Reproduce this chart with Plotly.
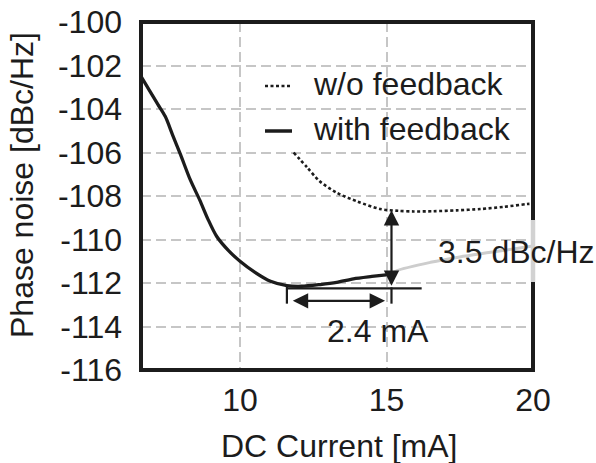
import plotly.graph_objects as go

# ---- data ----
fb_x = [6.62, 6.8, 7.0, 7.2, 7.45, 7.7, 7.97, 8.3, 8.63, 8.9, 9.2, 9.6, 10.0, 10.5, 11.04, 11.6, 12.1, 12.74, 13.3, 13.87, 14.5, 15.15]
fb_y = [-102.5, -102.9, -103.35, -103.8, -104.35, -105.2, -106.1, -107.25, -108.2, -109.05, -109.85, -110.5, -111.0, -111.5, -111.92, -112.12, -112.15, -112.07, -111.97, -111.81, -111.7, -111.6]

ext_x = [15.15, 15.36, 16.5, 17.5, 18.55, 20.0]
ext_y = [-111.6, -111.43, -111.05, -110.8, -110.59, -110.3]

nofb_x = [11.83, 12.3, 12.7, 13.3, 14.0, 14.79, 15.4, 15.92, 16.6, 17.4, 18.2, 19.0, 19.8, 20.0]
nofb_y = [-106.0, -106.7, -107.3, -107.85, -108.25, -108.6, -108.68, -108.71, -108.7, -108.66, -108.6, -108.5, -108.37, -108.35]

x_ticks = [10, 15, 20]
y_ticks = [-116, -114, -112, -110, -108, -106, -104, -102, -100]

# annotation values
arr_v_x, arr_v_top, arr_v_bot = 15.17, -108.65, -112.2
arr_h_y, arr_h_left, arr_h_right = -112.82, 11.75, 14.95
base_y, base_left, base_right = -112.25, 11.6, 16.2
tick_low = -112.95
lbl_mA = (14.71, -114.2, "2.4 mA")
lbl_dB = (19.43, -110.56, "3.5 dBc/Hz")

FONT = "Liberation Sans, Arial, Helvetica, sans-serif"
INK = "#1c1c1c"
FS = 32

fig = go.Figure()
fig.add_trace(go.Scatter(x=ext_x, y=ext_y, mode="lines",
                         line=dict(color="#cdcdcd", width=3, shape="spline", smoothing=0.8), showlegend=False))
fig.add_trace(go.Scatter(x=nofb_x, y=nofb_y, mode="lines",
                         line=dict(color=INK, width=2.6, dash="3px,2.5px", shape="spline", smoothing=0.8),
                         showlegend=False))
fig.add_trace(go.Scatter(x=fb_x, y=fb_y, mode="lines",
                         line=dict(color=INK, width=3.3, shape="spline", smoothing=0.8), showlegend=False))

W, H = 596, 463
L, R, T, B = 141, 63, 22, 93
pw, ph = W - L - R, H - T - B
def px(xp):
    return (xp - L) / pw
def py(yp):
    return (H - B - yp) / ph

shapes = []
# frame
shapes.append(dict(type="rect", xref="paper", yref="paper", x0=0, x1=1, y0=0, y1=1,
                   line=dict(color=INK, width=4), layer="above"))
# grey segment on right border
shapes.append(dict(type="line", xref="paper", yref="paper", x0=1, x1=1, y0=py(220), y1=py(282),
                   line=dict(color="#d2d2d2", width=4.5), layer="above"))
# baseline & ticks of the annotation
shapes.append(dict(type="line", xref="x", yref="y", x0=base_left, x1=base_right, y0=base_y, y1=base_y,
                   line=dict(color=INK, width=2.2)))
shapes.append(dict(type="line", xref="x", yref="y", x0=base_left, x1=base_left, y0=-112.1, y1=tick_low,
                   line=dict(color=INK, width=2.2)))
shapes.append(dict(type="line", xref="x", yref="y", x0=arr_v_x, x1=arr_v_x, y0=arr_v_bot, y1=tick_low,
                   line=dict(color=INK, width=2.2)))
# legend samples
shapes.append(dict(type="line", xref="paper", yref="paper", x0=px(265), x1=px(292), y0=py(86), y1=py(86),
                   line=dict(color=INK, width=2.4, dash="3px,2.5px")))
shapes.append(dict(type="line", xref="paper", yref="paper", x0=px(265), x1=px(292), y0=py(131), y1=py(131),
                   line=dict(color=INK, width=3.5)))

annotations = []
# double arrows
annotations.append(dict(x=arr_v_x, y=arr_v_top, ax=arr_v_x, ay=arr_v_bot, xref="x", yref="y",
                        axref="x", ayref="y", text="", showarrow=True, arrowhead=2, startarrowhead=2,
                        arrowside="end+start", arrowwidth=2.2, arrowsize=1.4, startarrowsize=1.4,
                        arrowcolor=INK))
annotations.append(dict(x=arr_h_right, y=arr_h_y, ax=arr_h_left, ay=arr_h_y, xref="x", yref="y",
                        axref="x", ayref="y", text="", showarrow=True, arrowhead=2, startarrowhead=2,
                        arrowside="end+start", arrowwidth=2.2, arrowsize=1.4, startarrowsize=1.4,
                        arrowcolor=INK))
for (xx, yy, tt) in [lbl_mA, lbl_dB]:
    annotations.append(dict(x=xx, y=yy, xref="x", yref="y", text=tt, showarrow=False,
                            xanchor="center", yanchor="middle", font=dict(family=FONT, size=FS, color=INK)))
# legend texts
annotations.append(dict(x=px(311), y=py(84), xref="paper", yref="paper", text="w/o feedback",
                        showarrow=False, xanchor="left", yanchor="middle",
                        font=dict(family=FONT, size=FS, color=INK)))
annotations.append(dict(x=px(311), y=py(129), xref="paper", yref="paper", text="with feedback",
                        showarrow=False, xanchor="left", yanchor="middle",
                        font=dict(family=FONT, size=FS, color=INK)))
# axis titles
annotations.append(dict(x=px(339), y=py(446), xref="paper", yref="paper", text="DC Current [mA]",
                        showarrow=False, xanchor="center", yanchor="middle",
                        font=dict(family=FONT, size=FS, color=INK)))
annotations.append(dict(x=px(22), y=py(185), xref="paper", yref="paper", text="Phase noise [dBc/Hz]",
                        showarrow=False, xanchor="center", yanchor="middle", textangle=-90,
                        font=dict(family=FONT, size=FS, color=INK)))

grid = dict(showgrid=True, gridcolor="#c6c6c6", gridwidth=2, griddash="10px,5px",
            zeroline=False, showline=False, ticks="",
            tickfont=dict(family=FONT, size=FS, color=INK))

fig.update_layout(
    width=W, height=H, margin=dict(l=L, r=R, t=T, b=B, autoexpand=False),
    paper_bgcolor="white", plot_bgcolor="white", showlegend=False,
    xaxis=dict(range=[6.62, 20], tickvals=x_ticks, ticktext=[str(v) for v in x_ticks],
               ticklabelstandoff=8, **grid),
    yaxis=dict(range=[-116, -100], tickvals=y_ticks, ticktext=[str(v) for v in y_ticks],
               ticklabelstandoff=18, **grid),
    shapes=shapes, annotations=annotations,
)
fig.write_html("out.html", config={"displayModeBar": False},
               post_script="document.body.style.margin='0';document.body.style.overflow='hidden';")
